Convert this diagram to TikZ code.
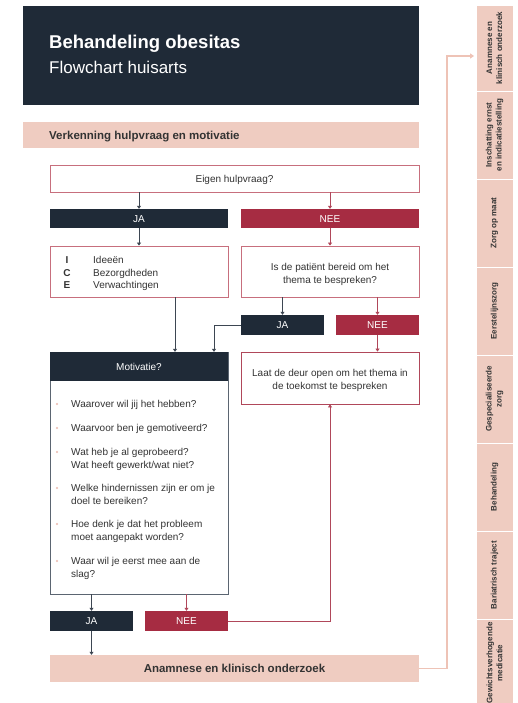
\documentclass[tikz,border=0pt]{standalone}
\usepackage{fontspec}
\setmainfont{Liberation Sans}
\usetikzlibrary{arrows.meta}
\definecolor{navy}{HTML}{1F2A37}
\definecolor{crimson}{HTML}{A62C42}
\definecolor{pinkfill}{HTML}{EFCCC1}
\definecolor{boxred}{HTML}{C76F7D}
\definecolor{motivborder}{HTML}{5B6571}
\definecolor{darkline}{HTML}{3D4652}
\definecolor{redline}{HTML}{B0475A}
\definecolor{pinkline}{HTML}{EEC3B6}
\definecolor{pinkdot}{HTML}{EBB9AC}
\definecolor{txt}{HTML}{333333}
\begin{document}
\begin{tikzpicture}[x=1pt,y=-1pt,
  whitebox/.style={draw=boxred, line width=0.8pt, fill=white, inner sep=0pt},
  bartext/.style={inner sep=0pt, text=white, font=\fontsize{10}{12}\selectfont, text height=7.1pt, text depth=0pt},
  jabox/.style={bartext, fill=navy},
  neebox/.style={bartext, fill=crimson},
  body/.style={inner sep=0pt, text=txt, font=\fontsize{10}{12.5}\selectfont},
  dk/.style={draw=darkline, line width=0.8pt, -{Triangle[length=3pt,width=4pt]}},
  rd/.style={draw=redline, line width=0.8pt, -{Triangle[length=3pt,width=4pt]}},
  pk/.style={draw=pinkline, line width=1.1pt, -{Triangle[length=4pt,width=5pt]}},
  sidebox/.style={fill=pinkfill, draw=white, line width=0.8pt, inner sep=0pt, rotate=90,
    minimum height=37pt, align=center, text=txt, font=\bfseries\fontsize{8}{10}\selectfont},
  band/.style={fill=pinkfill, inner sep=0pt}
]
\useasboundingbox (0,0) rectangle (518,703);

% header
\node[fill=navy, minimum width=396pt, minimum height=99pt, inner sep=0pt] (header) at (221,55.5) {};
\node[anchor=base west, text=white, font=\bfseries\fontsize{18.5}{22}\selectfont, inner sep=0pt] (title) at (49,49) {Behandeling obesitas};
\node[anchor=base west, text=white, font=\fontsize{17}{20}\selectfont, inner sep=0pt] (subtitle) at (49,74) {Flowchart huisarts};

% section band
\node[band, minimum width=396pt, minimum height=26pt] (bandbox) at (221,135) {};
\node[anchor=base west, inner sep=0pt, text=txt, font=\bfseries\fontsize{11.5}{14}\selectfont] (bandtext) at (49,139.2) {Verkenning hulpvraag en motivatie};

% eigen hulpvraag
\node[whitebox, body, minimum width=369pt, minimum height=27pt, text height=7.2pt, text depth=0pt] (eigen) at (234.5,178.5) {Eigen hulpvraag?};

% JA / NEE
\node[jabox, minimum width=178pt, minimum height=19pt] (ja1) at (139,218.5) {JA};
\node[neebox, minimum width=178pt, minimum height=19pt] (nee1) at (330,218.5) {NEE};

% ICE box
\node[whitebox, minimum width=178pt, minimum height=51pt] (ice) at (139,271.5) {};
\node[body, anchor=base, font=\bfseries\fontsize{10}{12.5}\selectfont] (iI) at (67,263.5) {I};
\node[body, anchor=base, font=\bfseries\fontsize{10}{12.5}\selectfont] (iC) at (67,276) {C};
\node[body, anchor=base, font=\bfseries\fontsize{10}{12.5}\selectfont] (iE) at (67,288.5) {E};
\node[body, anchor=base west] (tI) at (93,263.5) {Ideeën};
\node[body, anchor=base west] (tC) at (93,276) {Bezorgdheden};
\node[body, anchor=base west] (tE) at (93,288.5) {Verwachtingen};

% patient box
\node[whitebox, minimum width=178pt, minimum height=51pt] (patient) at (330,271.5) {};
\node[body, anchor=base] (p1) at (330,270.6) {Is de patiënt bereid om het};
\node[body, anchor=base] (p2) at (330,283) {thema te bespreken?};

% JA2 / NEE2
\node[jabox, minimum width=83pt, minimum height=20pt] (ja2) at (282.5,325) {JA};
\node[neebox, minimum width=83pt, minimum height=20pt] (nee2) at (377.5,325) {NEE};

% Motivatie
\node[draw=motivborder, line width=0.8pt, fill=white, minimum width=178pt, minimum height=242pt, inner sep=0pt] (motiv) at (139,473) {};
\node[fill=navy, text=white, inner sep=0pt, minimum width=178pt, minimum height=29pt, font=\fontsize{10}{12.5}\selectfont, text height=7.2pt, text depth=0pt] (motivhead) at (139,366.5) {Motivatie?};

\foreach \yy in {404,428,452,488,524,561} \fill[pinkdot] (57,\yy) circle (1.2pt);
\node[body, anchor=base west] (b1) at (71,407.6) {Waarover wil jij het hebben?};
\node[body, anchor=base west] (b2) at (71,431.6) {Waarvoor ben je gemotiveerd?};
\node[body, anchor=base west] (b3a) at (71,455.6) {Wat heb je al geprobeerd?};
\node[body, anchor=base west] (b3b) at (71,468.1) {Wat heeft gewerkt/wat niet?};
\node[body, anchor=base west] (b4a) at (71,491.6) {Welke hindernissen zijn er om je};
\node[body, anchor=base west] (b4b) at (71,504.1) {doel te bereiken?};
\node[body, anchor=base west] (b5a) at (71,527.6) {Hoe denk je dat het probleem};
\node[body, anchor=base west] (b5b) at (71,540.1) {moet aangepakt worden?};
\node[body, anchor=base west] (b6a) at (71,564.6) {Waar wil je eerst mee aan de};
\node[body, anchor=base west] (b6b) at (71,577.1) {slag?};

% Laat de deur open
\node[whitebox, draw=redline, minimum width=178pt, minimum height=52pt] (laat) at (330,378) {};
\node[body, anchor=base] (l1) at (330,376.6) {Laat de deur open om het thema in};
\node[body, anchor=base] (l2) at (330,389) {de toekomst te bespreken};

% JA3 / NEE3
\node[jabox, minimum width=83pt, minimum height=20pt] (ja3) at (91.5,621) {JA};
\node[neebox, minimum width=83pt, minimum height=20pt] (nee3) at (186.5,621) {NEE};

% Anamnese
\node[band, minimum width=369pt, minimum height=27pt, text=txt, font=\bfseries\fontsize{11.5}{14}\selectfont, text height=8.2pt, text depth=0pt] (anam) at (234.5,668.5) {Anamnese en klinisch onderzoek};

% sidebar
\node[sidebox, minimum width=86pt] (s1) at (494.5,48) {Anamnese en\\klinisch onderzoek};
\node[sidebox, minimum width=88pt] (s2) at (494.5,135) {Inschatting ernst\\en indicatiestelling};
\node[sidebox, minimum width=88pt] (s3) at (494.5,223) {Zorg op maat};
\node[sidebox, minimum width=88pt] (s4) at (494.5,311) {Eerstelijnszorg};
\node[sidebox, minimum width=88pt] (s5) at (494.5,399) {Gespecialiseerde\\zorg};
\node[sidebox, minimum width=88pt] (s6) at (494.5,487) {Behandeling};
\node[sidebox, minimum width=88pt] (s7) at (494.5,575) {Bariatrisch traject};
\node[sidebox, minimum width=88pt] (s8) at (494.5,663) {Gewichtsverhogende\\medicatie};

% connectors
\draw[dk] (eigen.south -| ja1.north) -- (ja1.north);
\draw[rd] (eigen.south -| nee1.north) -- (nee1.north);
\draw[dk] (ja1.south) -- (ice.north);
\draw[rd] (nee1.south) -- (patient.north);
\draw[dk] ([xshift=36pt]ice.south) -- ([xshift=36pt]motivhead.north);
\draw[dk] (patient.south -| ja2.north) -- (ja2.north);
\draw[rd] (patient.south -| nee2.north) -- (nee2.north);
\draw[dk] (ja2.west) -| ([xshift=75pt]motivhead.north);
\draw[rd] (nee2.south) -- (laat.north -| nee2.south);
\draw[dk] (motiv.south -| ja3.north) -- (ja3.north);
\draw[rd] (motiv.south -| nee3.north) -- (nee3.north);
\draw[rd] (nee3.east) -| (laat.south);
\draw[dk] (ja3.south) -- (anam.north -| ja3.south);
\coordinate (turn) at (447,56);
\draw[pk] (anam.east) -| (turn) -- ([xshift=-1.5pt]s1.north |- turn);
\end{tikzpicture}
\end{document}
